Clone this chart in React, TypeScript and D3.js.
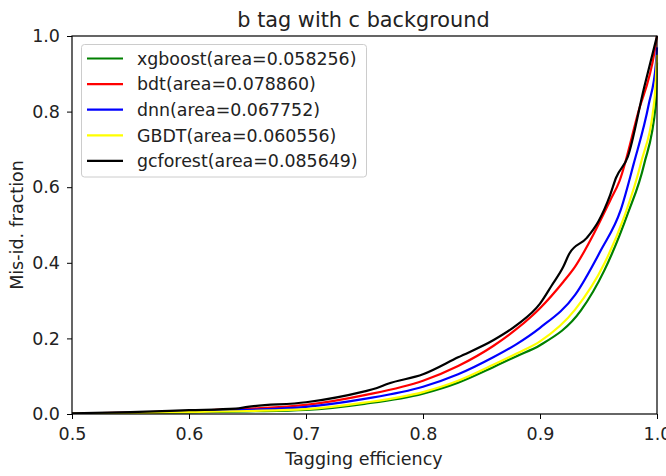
import React, { useEffect, useRef } from 'react';
import * as d3 from 'd3';

// x = tagging efficiency, y = mis-id fraction
const xgboostX = [0.5, 0.55, 0.6, 0.65, 0.7, 0.75, 0.8, 0.83, 0.86, 0.88, 0.9, 0.935, 0.955, 0.975, 0.989, 0.999, 1.0];
const xgboostY = [0.001, 0.002, 0.004, 0.007, 0.011, 0.027, 0.054, 0.083, 0.124, 0.153, 0.182, 0.274, 0.38, 0.53, 0.661, 0.82, 0.93];

const bdtX = [0.5, 0.55, 0.6, 0.65, 0.7, 0.75, 0.8, 0.83, 0.86, 0.88, 0.9, 0.92, 0.93, 0.946, 0.96, 0.968, 0.9835, 0.998, 1.0];
const bdtY = [0.001, 0.004, 0.008, 0.014, 0.024, 0.05, 0.088, 0.127, 0.18, 0.225, 0.28, 0.35, 0.39, 0.477, 0.565, 0.617, 0.793, 0.96, 1.0];

const dnnX = [0.5, 0.55, 0.6, 0.65, 0.7, 0.75, 0.8, 0.83, 0.86, 0.88, 0.9, 0.93, 0.952, 0.969, 0.98, 0.993, 0.999, 1.0];
const dnnY = [0.001, 0.003, 0.006, 0.011, 0.019, 0.04, 0.072, 0.105, 0.15, 0.185, 0.228, 0.315, 0.433, 0.54, 0.661, 0.82, 0.925, 0.97];

const gbdtX = [0.5, 0.55, 0.6, 0.65, 0.7, 0.75, 0.8, 0.83, 0.86, 0.88, 0.9, 0.93, 0.955, 0.972, 0.986, 0.998, 1.0];
const gbdtY = [0.001, 0.002, 0.005, 0.008, 0.013, 0.03, 0.058, 0.088, 0.13, 0.16, 0.192, 0.276, 0.398, 0.522, 0.661, 0.837, 0.95];

const gcforestX = [0.5, 0.55, 0.6, 0.64, 0.65, 0.7, 0.75, 0.76, 0.77, 0.8, 0.83, 0.86, 0.88, 0.9, 0.91, 0.92, 0.925, 0.94, 0.95, 0.96, 0.965, 0.975, 0.989, 1.0];
const gcforestY = [0.002, 0.005, 0.01, 0.014, 0.019, 0.031, 0.06, 0.068, 0.08, 0.105, 0.15, 0.195, 0.235, 0.292, 0.34, 0.39, 0.424, 0.466, 0.51, 0.58, 0.625, 0.68, 0.864, 1.0];

const seriesNames = ['xgboost(area=0.058256)', 'bdt(area=0.078860)', 'dnn(area=0.067752)', 'GBDT(area=0.060556)', 'gcforest(area=0.085649)'];
const seriesColors = ['#008000', '#ff0000', '#0000ff', '#ffff00', '#000000'];
const seriesX = [xgboostX, bdtX, dnnX, gbdtX, gcforestX];
const seriesY = [xgboostY, bdtY, dnnY, gbdtY, gcforestY];

const xTicks = [0.5, 0.6, 0.7, 0.8, 0.9, 1.0];
const yTicks = [0.0, 0.2, 0.4, 0.6, 0.8, 1.0];

const FONT = 'DejaVu Sans, sans-serif';

const App = () => {
  const ref = useRef<SVGSVGElement>(null);

  useEffect(() => {
    const svg = d3.select(ref.current);
    svg.selectAll('*').remove();
    const width = 666;
    const height = 476;
    const m = { left: 72, right: 657, top: 36, bottom: 414 };

    const x = d3.scaleLinear().domain([0.5, 1.0]).range([m.left, m.right]);
    const y = d3.scaleLinear().domain([0, 1]).range([m.bottom, m.top]);

    svg.append('rect').attr('width', width).attr('height', height).attr('fill', '#fff');

    const clipId = 'plotclip';
    svg.append('clipPath').attr('id', clipId)
      .append('rect')
      .attr('x', m.left).attr('y', m.top - 2)
      .attr('width', m.right - m.left + 2).attr('height', m.bottom - m.top + 2);

    const line = d3.line<[number, number]>()
      .x((d) => x(d[0]))
      .y((d) => y(d[1]))
      .curve(d3.curveMonotoneX);

    const g = svg.append('g').attr('clip-path', `url(#${clipId})`);
    seriesNames.forEach((name, i) => {
      const pts = seriesX[i].map((v, j) => [v, seriesY[i][j]] as [number, number]);
      g.append('path')
        .attr('d', line(pts))
        .attr('fill', 'none')
        .attr('stroke', seriesColors[i])
        .attr('stroke-width', 2.2)
        .attr('stroke-linejoin', 'round');
    });

    // axes
    const xAxis = svg.append('g')
      .attr('transform', `translate(0,${m.bottom})`)
      .call(d3.axisBottom(x).tickValues(xTicks).tickFormat(d3.format('.1f')).tickSize(5).tickPadding(9));
    const yAxis = svg.append('g')
      .attr('transform', `translate(${m.left},0)`)
      .call(d3.axisLeft(y).tickValues(yTicks).tickFormat(d3.format('.1f')).tickSize(5).tickPadding(7));
    [xAxis, yAxis].forEach((a) => {
      a.select('.domain').remove();
      a.selectAll('line').attr('stroke', '#000').attr('stroke-width', 1);
      a.selectAll('text').attr('font-family', FONT).attr('font-size', 17.5).attr('fill', '#222');
    });

    svg.append('rect')
      .attr('x', m.left).attr('y', m.top)
      .attr('width', m.right - m.left).attr('height', m.bottom - m.top)
      .attr('fill', 'none').attr('stroke', '#000').attr('stroke-width', 1.2);

    // title and labels
    svg.append('text')
      .attr('x', 363.5).attr('y', 27)
      .attr('text-anchor', 'middle')
      .attr('font-family', FONT).attr('font-size', 20.8).attr('fill', '#222')
      .text('b tag with c background');
    svg.append('text')
      .attr('x', 364).attr('y', 465)
      .attr('text-anchor', 'middle')
      .attr('font-family', FONT).attr('font-size', 17.5).attr('fill', '#222')
      .text('Tagging efficiency');
    svg.append('text')
      .attr('transform', `translate(23,${(m.top + m.bottom) / 2}) rotate(-90)`)
      .attr('text-anchor', 'middle')
      .attr('font-family', FONT).attr('font-size', 17.5).attr('fill', '#222')
      .text('Mis-id. fraction');

    // legend
    const lg = svg.append('g');
    lg.append('rect')
      .attr('x', 81.5).attr('y', 44.5).attr('width', 285).attr('height', 132.5)
      .attr('rx', 3)
      .attr('fill', '#fff').attr('fill-opacity', 0.8)
      .attr('stroke', '#cccccc').attr('stroke-width', 1);
    seriesNames.forEach((name, i) => {
      const yy = 58.5 + i * 25.6;
      lg.append('line')
        .attr('x1', 87).attr('x2', 123).attr('y1', yy).attr('y2', yy)
        .attr('stroke', seriesColors[i]).attr('stroke-width', 2.2);
      lg.append('text')
        .attr('x', 137).attr('y', yy + 6.2)
        .attr('font-family', FONT).attr('font-size', 17.4).attr('fill', '#222')
        .text(name);
    });
  }, []);

  return (
    <div style={{ position: 'fixed', left: 0, top: 0 }}>
      <svg ref={ref} width={666} height={476} style={{ display: 'block' }}></svg>
    </div>
  );
};

export default App;
